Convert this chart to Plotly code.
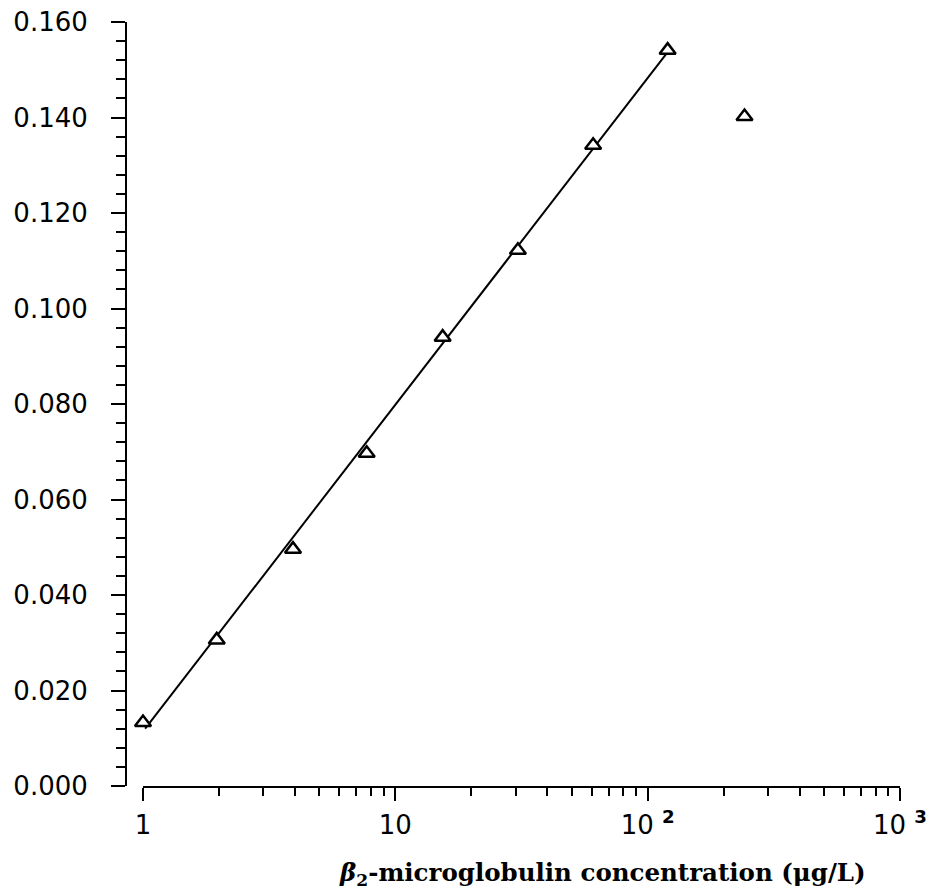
import plotly.graph_objects as go

# ---- data ----
conc = [1.0, 1.96, 3.93, 7.7, 15.4, 30.6, 60.8, 120, 242]          # µg/L
signal = [0.0133, 0.0306, 0.0496, 0.0697, 0.0940, 0.1122, 0.1342, 0.1541, 0.1402]

fit_x = [1.02, 120]
fit_y = [0.0120, 0.1537]

x_tick_vals = [1, 10, 100, 1000]
x_tick_text = ["1", "10", "10 <sup><b>2</b></sup>", "10 <sup><b>3</b></sup>"]
x_minor_vals = [2, 3, 4, 5, 6, 7, 8, 9, 20, 30, 40, 50, 60, 70, 80, 90,
                200, 300, 400, 500, 600, 700, 800, 900]
y_tick_vals = [0.0, 0.02, 0.04, 0.06, 0.08, 0.10, 0.12, 0.14, 0.16]
y_tick_text = ["0.000", "0.020", "0.040", "0.060", "0.080", "0.100", "0.120", "0.140", "0.160"]

x_title = "<i>β</i><sub>2</sub>-microglobulin concentration (μg/L)"

W, H = 931, 891
tick_font = dict(family="DejaVu Sans", size=26, color="black")

fig = go.Figure()
fig.add_trace(go.Scatter(
    x=fit_x, y=fit_y, mode="lines",
    line=dict(color="black", width=2), showlegend=False, hoverinfo="skip"))
fig.add_trace(go.Scatter(
    x=conc, y=signal, mode="markers", cliponaxis=False,
    marker=dict(symbol="triangle-up", size=14, color="white",
                line=dict(color="black", width=2.5)),
    showlegend=False))

fig.update_layout(
    width=W, height=H,
    margin=dict(l=0, r=0, t=0, b=0),
    paper_bgcolor="white", plot_bgcolor="white",
    xaxis=dict(
        type="log", range=[0, 3],
        domain=[143 / W, 900 / W],
        showgrid=False, zeroline=False,
        showline=True, linecolor="black", linewidth=2,
        ticks="outside", ticklen=13, tickwidth=2, tickcolor="black",
        tickmode="array", tickvals=x_tick_vals, ticktext=x_tick_text,
        tickfont=tick_font, ticklabelstandoff=2,
        minor=dict(tickmode="array", tickvals=x_minor_vals, ticks="outside",
                   ticklen=8, tickwidth=2, tickcolor="black", showgrid=False),
        automargin=False,
    ),
    yaxis=dict(
        range=[0, 0.16],
        domain=[(H - 786) / H, (H - 22) / H],
        anchor="free", position=126 / W,
        showgrid=False, zeroline=False,
        showline=True, linecolor="black", linewidth=2,
        ticks="outside", ticklen=14, tickwidth=2, tickcolor="black",
        tickmode="array", tickvals=y_tick_vals, ticktext=y_tick_text,
        tickfont=tick_font, ticklabelstandoff=18,
        minor=dict(dtick=0.004, ticks="outside", ticklen=9, tickwidth=2,
                   tickcolor="black", showgrid=False),
        automargin=False,
    ),
    annotations=[dict(
        text=x_title, xref="paper", yref="paper",
        x=602 / W, y=(H - 874) / H, xanchor="center", yanchor="middle",
        showarrow=False,
        font=dict(family="DejaVu Serif", size=24.5, color="black", weight="bold"),
    )],
)

fig.write_html("out.html", config={"displayModeBar": False},
               post_script="document.body.style.margin='0px';document.body.style.overflow='hidden';")
